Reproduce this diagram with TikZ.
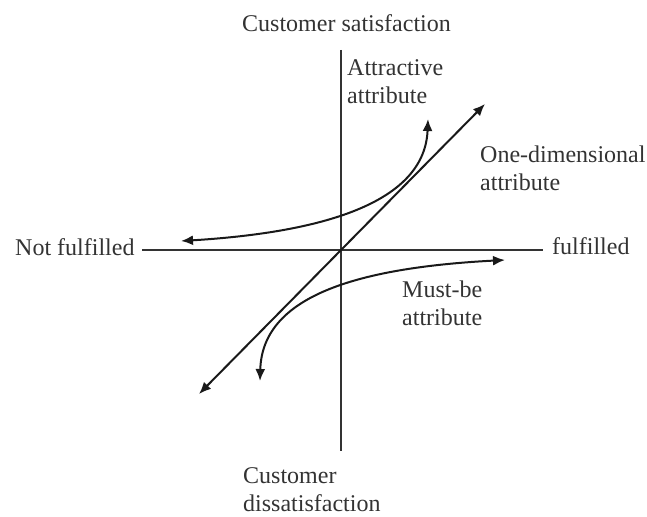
\documentclass[tikz,border=0pt]{standalone}
\usepackage{fontspec}
\setmainfont{Liberation Serif}
\usetikzlibrary{arrows.meta}
\begin{document}
\begin{tikzpicture}[x=1pt,y=-1pt,
  lbl/.style={inner sep=0pt, font=\fontsize{24}{27.5}\selectfont, text=black!80, align=left},
  axis/.style={draw=black!80, line width=1.7pt},
  curve/.style={draw=black!90, line width=2pt, {Latex[length=12pt,width=10pt]}-{Latex[length=12pt,width=10pt]}}]
\useasboundingbox (0,0) rectangle (647,516);
% axes
\coordinate (O) at (341,250);
\coordinate (top) at (341,50);
\coordinate (bot) at (341,451);
\coordinate (left) at (142,250);
\coordinate (right) at (543,250);
\draw[axis] (top) -- (bot);
\draw[axis] (left) -- (right);
% one-dimensional
\coordinate (od1) at (199,394);
\coordinate (od2) at (485,104);
\draw[curve] (od1) -- (od2);
% attractive
\coordinate (at1) at (181,241);
\coordinate (at2) at (428,119);
\draw[curve] (at1) .. controls (330,232) and (425,200) .. (at2);
% must-be
\coordinate (mb1) at (505,260);
\coordinate (mb2) at (260,381);
\draw[curve] (mb1) .. controls (352,268) and (262,298) .. (mb2);
% labels
\node[lbl, anchor=base west] (cs) at (242,32) {Customer satisfaction};
\node[lbl, anchor=base west] (cd) at (243,511) {Customer\\dissatisfaction};
\node[lbl, anchor=base west] (nf) at (15,255) {Not fulfilled};
\node[lbl, anchor=base west] (ff) at (552,254) {fulfilled};
\node[lbl, anchor=base west] (att) at (347,103) {Attractive\\attribute};
\node[lbl, anchor=base west] (one) at (480,190) {One-dimensional\\attribute};
\node[lbl, anchor=base west] (mbl) at (402,325) {Must-be\\attribute};
\end{tikzpicture}
\end{document}
